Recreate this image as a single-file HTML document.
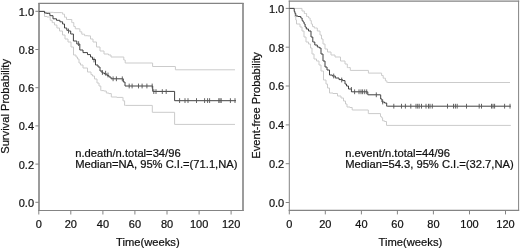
<!DOCTYPE html>
<html><head><meta charset="utf-8"><style>
html,body{margin:0;padding:0;background:#fff;}
body{width:520px;height:249px;overflow:hidden;}
svg{display:block;will-change:transform;}
text{font-family:"Liberation Sans",sans-serif;font-size:11px;fill:#111;stroke:#111;stroke-width:0.22px;}
</style></head><body>
<svg width="520" height="249" viewBox="0 0 520 249">
<rect width="520" height="249" fill="#fff"/>
<path d="M38.40 3.40 H243.60 M38.40 210.50 H243.60" fill="none" stroke="#848484" stroke-width="1.1"/>
<path d="M39.00 2.90 V211.00 M243.00 2.90 V211.00" fill="none" stroke="#848484" stroke-width="1.6"/>
<line x1="38.8" y1="210.5" x2="38.8" y2="214.5" stroke="#848484"/>
<text x="38.8" y="227.6" text-anchor="middle">0</text>
<line x1="70.8" y1="210.5" x2="70.8" y2="214.5" stroke="#848484"/>
<text x="70.8" y="227.6" text-anchor="middle">20</text>
<line x1="102.9" y1="210.5" x2="102.9" y2="214.5" stroke="#848484"/>
<text x="102.9" y="227.6" text-anchor="middle">40</text>
<line x1="134.9" y1="210.5" x2="134.9" y2="214.5" stroke="#848484"/>
<text x="134.9" y="227.6" text-anchor="middle">60</text>
<line x1="167.0" y1="210.5" x2="167.0" y2="214.5" stroke="#848484"/>
<text x="167.0" y="227.6" text-anchor="middle">80</text>
<line x1="199.1" y1="210.5" x2="199.1" y2="214.5" stroke="#848484"/>
<text x="199.1" y="227.6" text-anchor="middle">100</text>
<line x1="231.1" y1="210.5" x2="231.1" y2="214.5" stroke="#848484"/>
<text x="231.1" y="227.6" text-anchor="middle">120</text>
<line x1="35.4" y1="11.3" x2="39.0" y2="11.3" stroke="#848484"/>
<text x="34.0" y="15.7" text-anchor="end">1.0</text>
<line x1="35.4" y1="49.5" x2="39.0" y2="49.5" stroke="#848484"/>
<text x="34.0" y="53.9" text-anchor="end">0.8</text>
<line x1="35.4" y1="87.7" x2="39.0" y2="87.7" stroke="#848484"/>
<text x="34.0" y="92.1" text-anchor="end">0.6</text>
<line x1="35.4" y1="125.9" x2="39.0" y2="125.9" stroke="#848484"/>
<text x="34.0" y="130.3" text-anchor="end">0.4</text>
<line x1="35.4" y1="164.1" x2="39.0" y2="164.1" stroke="#848484"/>
<text x="34.0" y="168.5" text-anchor="end">0.2</text>
<line x1="35.4" y1="202.3" x2="39.0" y2="202.3" stroke="#848484"/>
<text x="34.0" y="206.7" text-anchor="end">0.0</text>
<path d="M39.0 11.4 H45.0 H45.0 V12.3 H45.0 H53.4 V12.6 H61.8 H62.6 V14.2 H63.4 H64.5 V17.2 H65.7 H66.5 V19.5 H67.2 H71.0 H71.8 V22.6 H72.6 H73.8 V26.5 H75.0 H75.3 V28.8 H75.7 H79.5 H79.9 V31.8 H80.3 H81.8 V34.2 H83.4 H84.6 V35.7 H85.7 H87.8 V35.9 H90.0 H90.5 V39.0 H91.0 H93.0 V42.0 H95.0 H96.5 V47.0 H98.0 H100.0 V51.0 H102.0 H104.0 V54.0 H106.0 H108.5 V55.0 H111.0 H111.0 V57.0 H111.0 H123.0 H123.8 V60.0 H124.5 H125.2 V63.0 H126.0 H152.6 H152.6 V66.5 H152.6 H175.4 H175.4 V69.8 H175.4 H235.0" fill="none" stroke="#cbcbcb" stroke-width="1"/>
<path d="M39.0 11.4 H44.5 H44.5 V16.5 H44.5 H47.0 V17.0 H49.5 H50.2 V20.3 H51.0 H52.2 V22.6 H53.4 H54.5 V25.0 H55.7 H56.9 V28.0 H58.0 H59.5 V31.0 H61.0 H62.5 V35.0 H64.0 H65.0 V39.0 H66.0 H68.0 V42.0 H70.0 H71.0 V47.0 H72.0 H73.5 V55.0 H75.0 H76.0 V57.0 H77.0 H77.5 V59.0 H78.0 H79.0 V63.0 H80.0 H80.5 V65.0 H81.0 H83.0 V68.0 H85.0 H87.5 V72.0 H90.0 H91.0 V74.6 H92.0 H92.5 V76.0 H93.0 H94.5 V79.0 H96.0 H97.0 V83.0 H98.0 H99.0 V86.0 H100.0 H100.8 V90.6 H101.6 H103.8 V91.0 H106.0 H106.3 V93.0 H106.6 H108.8 V93.6 H111.0 H111.3 V97.0 H111.6 H116.9 V97.4 H122.3 H123.0 V100.8 H123.8 H124.6 V105.4 H125.4 H152.3 H152.3 V112.3 H152.3 H174.6 H174.6 V124.4 H174.6 H235.0" fill="none" stroke="#cbcbcb" stroke-width="1"/>
<path d="M39.0 11.4 H44.5 H44.5 V13.0 H44.5 H46.6 V13.4 H48.8 H49.9 V15.7 H51.0 H53.0 V18.8 H55.0 H56.5 V20.3 H58.0 H59.9 V21.8 H61.8 H62.6 V24.0 H63.4 H64.5 V28.0 H65.7 H66.8 V30.3 H68.0 H68.8 V31.0 H69.5 H70.7 V34.0 H71.8 H73.4 V41.0 H75.0 H76.8 V44.0 H78.6 H79.8 V50.0 H81.0 H83.0 V52.6 H85.0 H87.5 V54.6 H90.0 H90.5 V57.0 H91.0 H92.5 V59.5 H94.0 H95.5 V65.0 H97.0 H98.0 V67.0 H99.0 H100.0 V71.0 H101.0 H102.0 V73.0 H103.0 H104.5 V74.0 H106.0 H107.0 V75.6 H108.0 H109.0 V77.0 H110.0 H111.0 V78.8 H112.0 H122.6 H123.3 V82.0 H124.0 H125.0 V86.0 H126.0 H152.7 H152.7 V91.4 H152.7 H174.6 H174.6 V100.7 H174.6 H236.0" fill="none" stroke="#404040" stroke-width="1"/>
<path d="M68.5 28.6 V33.4 M78.6 41.2 V46.0 M94.0 57.6 V62.4 M102.4 70.1 V74.9 M105.6 70.8 V75.6 M108.0 72.6 V77.4 M113.1 76.4 V81.2 M116.4 76.4 V81.2 M122.3 76.4 V81.2 M129.2 83.6 V88.4 M132.1 83.6 V88.4 M138.5 83.6 V88.4 M142.1 83.6 V88.4 M146.9 83.6 V88.4 M152.2 83.6 V88.4 M153.8 89.2 V94.0 M156.0 89.2 V94.0 M162.3 89.2 V94.0 M166.2 89.2 V94.0 M179.6 98.2 V103.0 M185.0 98.2 V103.0 M188.0 98.2 V103.0 M196.5 98.2 V103.0 M204.6 98.2 V103.0 M207.6 98.2 V103.0 M209.6 98.2 V103.0 M218.8 98.2 V103.0 M220.0 98.2 V103.0 M221.2 98.2 V103.0 M230.4 98.2 V103.0 M235.0 98.2 V103.0 " fill="none" stroke="#555" stroke-width="0.9"/>
<text x="75.2" y="156.8" style="font-size:11.2px">n.death/n.total=34/96</text>
<text x="75.2" y="167.6" style="font-size:11.2px">Median=NA, 95% C.I.=(71.1,NA)</text>
<text x="116.0" y="245.9" style="font-size:11.2px">Time(weeks)</text>
<text transform="translate(9.0 106.4) rotate(-90)" text-anchor="middle" style="font-size:11.15px">Survival Probability</text>
<path d="M288.70 1.10 H519.20 M288.70 210.40 H519.20" fill="none" stroke="#848484" stroke-width="1.1"/>
<path d="M289.30 0.60 V210.90 M518.60 0.60 V210.90" fill="none" stroke="#848484" stroke-width="1.0"/>
<line x1="289.3" y1="210.4" x2="289.3" y2="214.4" stroke="#848484"/>
<text x="289.3" y="227.6" text-anchor="middle">0</text>
<line x1="325.3" y1="210.4" x2="325.3" y2="214.4" stroke="#848484"/>
<text x="325.3" y="227.6" text-anchor="middle">20</text>
<line x1="361.4" y1="210.4" x2="361.4" y2="214.4" stroke="#848484"/>
<text x="361.4" y="227.6" text-anchor="middle">40</text>
<line x1="397.4" y1="210.4" x2="397.4" y2="214.4" stroke="#848484"/>
<text x="397.4" y="227.6" text-anchor="middle">60</text>
<line x1="433.4" y1="210.4" x2="433.4" y2="214.4" stroke="#848484"/>
<text x="433.4" y="227.6" text-anchor="middle">80</text>
<line x1="469.5" y1="210.4" x2="469.5" y2="214.4" stroke="#848484"/>
<text x="469.5" y="227.6" text-anchor="middle">100</text>
<line x1="505.5" y1="210.4" x2="505.5" y2="214.4" stroke="#848484"/>
<text x="505.5" y="227.6" text-anchor="middle">120</text>
<line x1="285.7" y1="8.4" x2="289.3" y2="8.4" stroke="#848484"/>
<text x="284.2" y="12.8" text-anchor="end">1.0</text>
<line x1="285.7" y1="47.2" x2="289.3" y2="47.2" stroke="#848484"/>
<text x="284.2" y="51.6" text-anchor="end">0.8</text>
<line x1="285.7" y1="86.0" x2="289.3" y2="86.0" stroke="#848484"/>
<text x="284.2" y="90.4" text-anchor="end">0.6</text>
<line x1="285.7" y1="124.9" x2="289.3" y2="124.9" stroke="#848484"/>
<text x="284.2" y="129.3" text-anchor="end">0.4</text>
<line x1="285.7" y1="163.7" x2="289.3" y2="163.7" stroke="#848484"/>
<text x="284.2" y="168.1" text-anchor="end">0.2</text>
<line x1="285.7" y1="202.5" x2="289.3" y2="202.5" stroke="#848484"/>
<text x="284.2" y="206.9" text-anchor="end">0.0</text>
<path d="M289.2 8.4 H301.0 H302.0 V11.0 H303.0 H304.3 V13.5 H305.6 H306.6 V16.5 H307.6 H308.6 V18.0 H309.6 H310.1 V20.6 H310.6 H311.3 V24.0 H312.0 H312.5 V26.6 H313.0 H314.3 V28.0 H315.6 H317.3 V31.0 H319.0 H320.0 V35.0 H321.0 H321.5 V39.0 H322.0 H323.0 V44.0 H324.0 H325.0 V49.0 H326.0 H327.5 V52.0 H329.0 H331.0 V55.0 H333.0 H335.0 V57.0 H337.0 H340.5 V61.0 H344.0 H345.0 V64.0 H346.0 H347.3 V67.6 H348.6 H350.3 V70.4 H352.0 H368.4 H368.4 V73.1 H368.4 H381.2 H381.6 V75.5 H382.1 H383.2 V78.2 H384.3 H385.4 V80.8 H386.5 H386.9 V82.5 H387.4 H510.0" fill="none" stroke="#cbcbcb" stroke-width="1"/>
<path d="M289.2 8.4 H294.5 H294.5 V13.0 H294.5 H295.0 V17.0 H295.5 H295.8 V20.0 H296.0 H296.5 V24.0 H297.0 H299.0 H300.0 V27.0 H301.0 H302.0 V31.0 H303.0 H304.0 V37.0 H305.0 H306.0 V42.0 H307.0 H308.5 V44.0 H310.0 H310.5 V48.0 H311.0 H312.0 V54.0 H313.0 H314.0 V59.0 H315.0 H316.5 V61.0 H318.0 H319.0 V65.0 H320.0 H321.0 V71.0 H322.0 H323.5 V80.0 H325.0 H326.0 V84.0 H327.0 H327.5 V88.0 H328.0 H329.5 V93.0 H331.0 H333.0 V93.5 H335.0 H337.5 V96.0 H340.0 H341.0 V98.0 H342.0 H343.5 V101.0 H345.0 H345.5 V104.0 H346.0 H347.0 V107.0 H348.0 H350.0 V107.5 H352.0 H352.2 V110.0 H352.5 H368.0 H368.3 V113.6 H368.6 H380.0 H380.5 V116.6 H381.0 H381.6 V117.7 H382.3 H382.6 V120.8 H383.0 H384.5 V121.5 H386.0 H386.5 V125.4 H387.0 H510.8" fill="none" stroke="#cbcbcb" stroke-width="1"/>
<path d="M289.2 8.4 H294.0 H294.2 V11.5 H294.5 H295.0 V13.5 H295.5 H295.8 V16.0 H296.0 H298.0 V16.5 H300.0 H300.8 V18.0 H301.6 H302.1 V20.6 H302.6 H303.1 V22.0 H303.6 H304.1 V24.0 H304.6 H305.1 V27.0 H305.6 H306.3 V29.0 H307.0 H308.5 V31.0 H310.0 H311.0 V37.0 H312.0 H312.8 V42.0 H313.6 H314.8 V45.0 H316.0 H317.3 V47.0 H318.6 H319.3 V48.0 H320.0 H321.0 V54.0 H322.0 H323.0 V61.0 H324.0 H325.0 V67.0 H326.0 H327.0 V70.0 H328.0 H329.5 V75.0 H331.0 H332.3 V76.0 H333.6 H335.3 V78.0 H337.0 H339.0 V79.6 H341.0 H342.5 V80.6 H344.0 H345.0 V84.0 H346.0 H346.5 V86.0 H347.0 H348.5 V89.0 H350.0 H351.5 V91.8 H353.0 H367.5 H367.8 V94.8 H368.0 H380.4 H380.7 V99.0 H381.0 H382.0 V102.0 H383.0 H384.5 V103.0 H386.0 H386.7 V106.2 H387.4 H510.8" fill="none" stroke="#404040" stroke-width="1"/>
<path d="M333.7 73.6 V78.4 M341.7 77.6 V82.4 M351.4 87.0 V91.8 M376.3 92.4 V97.2 M382.7 99.6 V104.4 M354.6 89.4 V94.2 M359.0 89.4 V94.2 M361.0 89.4 V94.2 M362.6 89.4 V94.2 M364.7 89.4 V94.2 M366.7 89.4 V94.2 M393.8 103.8 V108.6 M401.5 103.8 V108.6 M405.4 103.8 V108.6 M410.8 103.8 V108.6 M416.0 103.8 V108.6 M417.7 103.8 V108.6 M419.2 103.8 V108.6 M421.5 103.8 V108.6 M426.0 103.8 V108.6 M428.5 103.8 V108.6 M430.0 103.8 V108.6 M432.3 103.8 V108.6 M447.5 103.8 V108.6 M453.5 103.8 V108.6 M455.4 103.8 V108.6 M457.2 103.8 V108.6 M466.5 103.8 V108.6 M479.2 103.8 V108.6 M481.5 103.8 V108.6 M491.5 103.8 V108.6 M493.0 103.8 V108.6 M494.6 103.8 V108.6 M504.6 103.8 V108.6 M510.0 103.8 V108.6 " fill="none" stroke="#555" stroke-width="0.9"/>
<text x="345.2" y="156.8" style="font-size:11.2px">n.event/n.total=44/96</text>
<text x="345.2" y="167.6" style="font-size:11.2px">Median=54.3, 95% C.I.=(32.7,NA)</text>
<text x="378.6" y="245.9" style="font-size:11.2px">Time(weeks)</text>
<text transform="translate(260.2 105.4) rotate(-90)" text-anchor="middle" style="font-size:11.15px">Event-free Probability</text>
</svg>
</body></html>
